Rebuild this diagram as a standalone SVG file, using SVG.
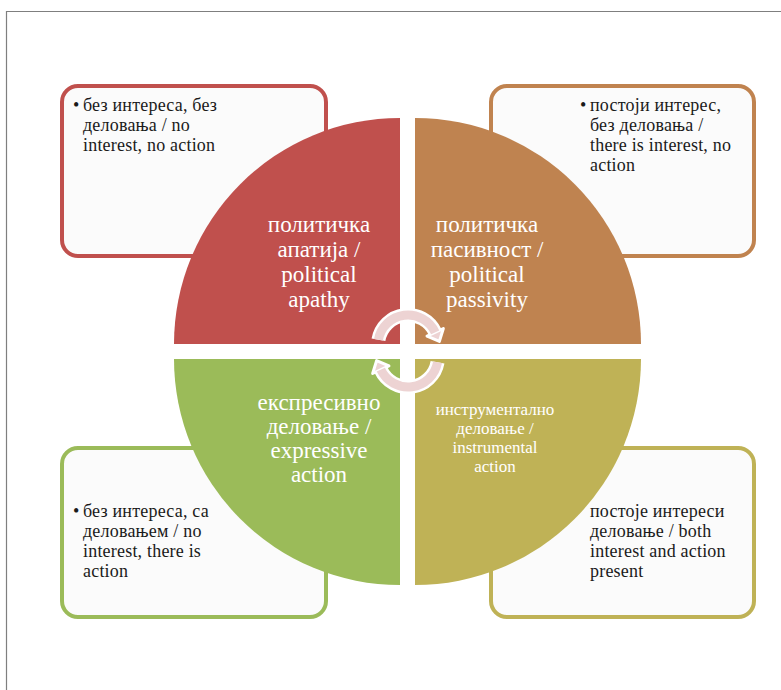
<svg xmlns="http://www.w3.org/2000/svg" width="781" height="690" viewBox="0 0 781 690">
<style>
text{font-family:'Liberation Serif','Times New Roman','DejaVu Serif',serif}
.box{fill:#fbfbfb;stroke-width:4}
.bt{font-size:18px;letter-spacing:0.2px;fill:#1a1a1a}
.qt{font-size:23px;fill:#ffffff;text-anchor:middle}
.qs{font-size:17px;fill:#ffffff;text-anchor:middle}
.arcw{fill:none;stroke:#ffffff;stroke-width:14}
.arcp{fill:none;stroke:#edd3d3;stroke-width:9}
</style>
<rect width="781" height="690" fill="#ffffff"/>
<path d="M6.5 690 V11.5 H781" fill="none" stroke="#7f7f7f" stroke-width="1.2"/>

<g id="box-apathy">
<rect class="box" x="62" y="86" width="264" height="170" rx="16" stroke="#c0504d"/>
<text class="bt" x="73" y="111">•</text>
<text class="bt"><tspan x="83" y="111">без интереса, без</tspan><tspan x="83" y="131">деловања / no</tspan><tspan x="83" y="151">interest, no action</tspan></text>
</g>
<g id="box-passivity">
<rect class="box" x="491" y="86" width="263" height="170" rx="16" stroke="#c0834f"/>
<text class="bt" x="580" y="111">•</text>
<text class="bt"><tspan x="590" y="111">постоји интерес,</tspan><tspan x="590" y="131">без деловања /</tspan><tspan x="590" y="151">there is interest, no</tspan><tspan x="590" y="171">action</tspan></text>
</g>
<g id="box-expressive">
<rect class="box" x="62" y="448" width="264" height="169" rx="16" stroke="#9bbb59"/>
<text class="bt" x="73" y="517">•</text>
<text class="bt"><tspan x="83" y="517">без интереса, са</tspan><tspan x="83" y="537">деловањем / no</tspan><tspan x="83" y="557">interest, there is</tspan><tspan x="83" y="577">action</tspan></text>
</g>
<g id="box-instrumental">
<rect class="box" x="491" y="448" width="263" height="169" rx="16" stroke="#bfb256"/>
<text class="bt"><tspan x="590" y="517">постоје интереси</tspan><tspan x="590" y="537">деловање / both</tspan><tspan x="590" y="557">interest and action</tspan><tspan x="590" y="577">present</tspan></text>
</g>

<g id="q-apathy">
<path d="M400 344 H174 A226 226 0 0 1 400 118 Z" fill="#c0504d"/>
<text class="qt"><tspan x="319" y="232">политичка</tspan><tspan x="319" y="257">апатија /</tspan><tspan x="319" y="282">political</tspan><tspan x="319" y="307">apathy</tspan></text>
</g>
<g id="q-passivity">
<path d="M415 344 V118 A226 226 0 0 1 641 344 Z" fill="#bf8350"/>
<text class="qt"><tspan x="487" y="232">политичка</tspan><tspan x="487" y="257">пасивност /</tspan><tspan x="487" y="282">political</tspan><tspan x="487" y="307">passivity</tspan></text>
</g>
<g id="q-expressive">
<path d="M400 359 V585 A226 226 0 0 1 174 359 Z" fill="#9bbb59"/>
<text class="qt"><tspan x="319" y="410">експресивно</tspan><tspan x="319" y="434">деловање /</tspan><tspan x="319" y="458">expressive</tspan><tspan x="319" y="482">action</tspan></text>
</g>
<g id="q-instrumental">
<path d="M415 359 H641 A226 226 0 0 1 415 585 Z" fill="#bfb256"/>
<text class="qs"><tspan x="495" y="415">инструментално</tspan><tspan x="495" y="434">деловање /</tspan><tspan x="495" y="453">instrumental</tspan><tspan x="495" y="472">action</tspan></text>
</g>

<g id="connectors">
<path class="arcw" d="M378.46 339.79 A30 30 0 0 1 435.19 332.32"/>
<polygon points="439.4,341.4 443.35,328.51 427.03,336.13" fill="#edd3d3" stroke="#ffffff" stroke-width="3" stroke-linejoin="round"/>
<path class="arcp" d="M378.46 339.79 A30 30 0 0 1 435.19 332.32"/>
<path class="arcw" d="M437.54 362.21 A30 30 0 0 1 380.81 369.68"/>
<polygon points="376.6,360.6 372.65,373.5 388.95,365.9" fill="#edd3d3" stroke="#ffffff" stroke-width="3" stroke-linejoin="round"/>
<path class="arcp" d="M437.54 362.21 A30 30 0 0 1 380.81 369.68"/>
</g>
</svg>
